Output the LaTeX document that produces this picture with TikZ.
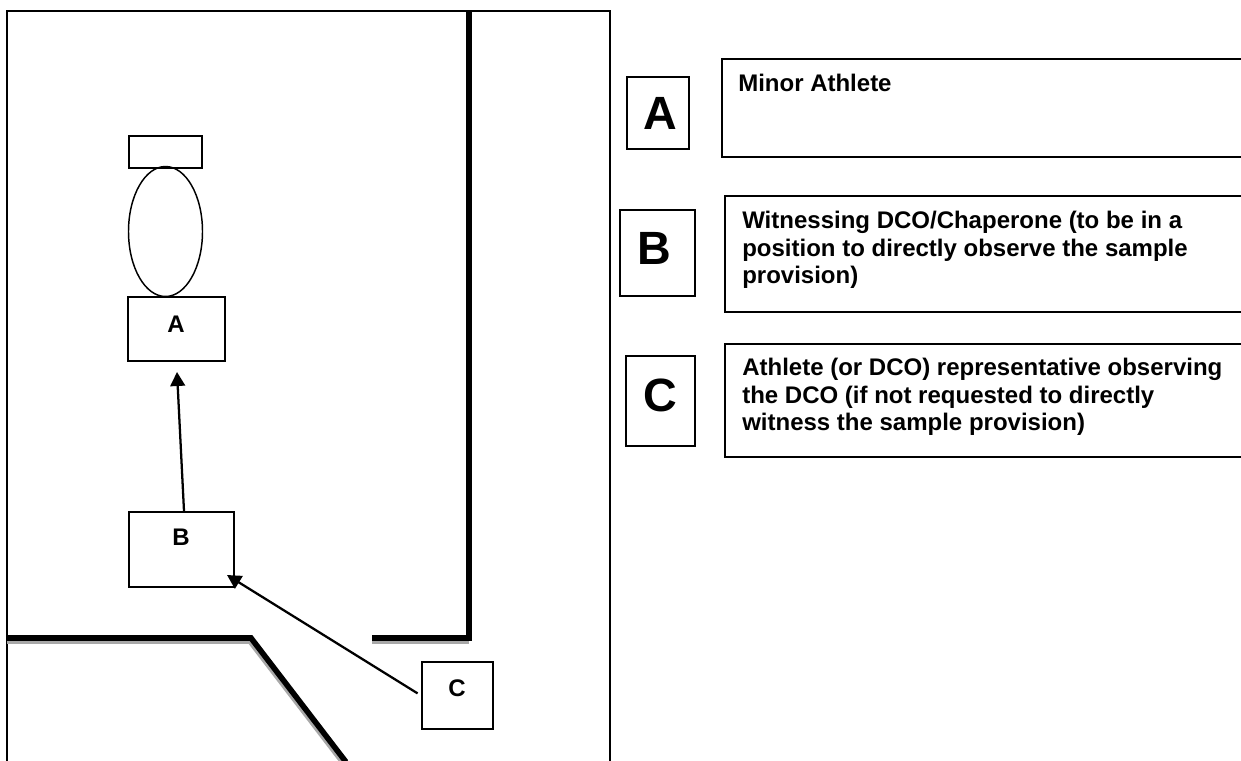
\documentclass[tikz,border=0pt]{standalone}
\usepackage{fontspec}
\setmainfont{Liberation Sans}
\usetikzlibrary{arrows.meta}
\definecolor{wallshadow}{gray}{0.66}
\tikzset{
  px/.style={x=0.75pt,y=-0.75pt},
  boxn/.style={draw=black,line width=1.5pt,inner sep=0pt,fill=white},
  outline/.style={draw=black,line width=1.5pt},
  wall/.style={draw=black,line width=4.2pt,miter limit=10},
  shadowwall/.style={draw=wallshadow,line width=4.2pt},
  conn/.style={draw=black,line width=1.7pt,-{Triangle[length=10.5pt,width=11pt]}},
  lbl/.style={font=\fontsize{18}{20}\selectfont\bfseries,inner sep=0pt},
  big/.style={font=\fontsize{35}{40}\selectfont\bfseries,inner sep=0pt},
  txt/.style={font=\fontsize{18}{20.7}\selectfont\bfseries,inner sep=0pt,align=left,anchor=north west}
}
\begin{document}
\begin{tikzpicture}[px]
\useasboundingbox (0,0) rectangle (1241,760);
\clip (0,0) rectangle (1241,760);
\fill[white] (0,0) rectangle (1241,760);
% room outline
\draw[outline] (7,765) -- (7,11) -- (610,11) -- (610,765);
% wall shadows
\draw[shadowwall] (7,641) -- (250,641) -- (345,765);
\draw[shadowwall] (372,641) -- (469,641);
% walls
\draw[wall] (469,11) -- (469,638) -- (372,638);
\draw[wall] (7,638) -- (251,638) -- (346,762);
% figure
\node[boxn,minimum width=73.5*0.75pt,minimum height=32*0.75pt] (top) at (165.5,152) {};
\draw[outline,line width=1.1pt] (165.5,231.5) ellipse [x radius=37,y radius=65];
\node[boxn,minimum width=97*0.75pt,minimum height=64*0.75pt] (A) at (176.5,329) {};
\node[lbl] (At) at (176,324) {A};
\node[boxn,minimum width=105*0.75pt,minimum height=75*0.75pt] (B) at (181.5,549.5) {};
\node[lbl] (Bt) at (181,537) {B};
\node[boxn,minimum width=71*0.75pt,minimum height=67*0.75pt] (C) at (457.5,695.5) {};
\node[lbl] (Ct) at (457,688) {C};
\coordinate (tipA) at (177,372);
\coordinate (tipB) at (227,575);
\draw[conn] ([shift={(2.5,0)}]B.north) -- (tipA);
\draw[conn,shorten <=3pt] (C.west) -- (tipB);
% legend
\node[boxn,minimum width=62*0.75pt,minimum height=72*0.75pt] (LA) at (658,113) {};
\node[big] (LAt) at (660,113) {A};
\node[boxn,minimum width=75*0.75pt,minimum height=86*0.75pt] (LB) at (657.5,253) {};
\node[big] (LBt) at (654,248) {B};
\node[boxn,minimum width=69*0.75pt,minimum height=90*0.75pt] (LC) at (660.5,401) {};
\node[big] (LCt) at (660,395) {C};
\draw[outline] (1245,59) -- (722,59) -- (722,157) -- (1245,157);
\draw[outline] (1245,196) -- (725,196) -- (725,312) -- (1245,312);
\draw[outline] (1245,344) -- (725,344) -- (725,457) -- (1245,457);
\node[txt] (T1) at (738,74) {Minor Athlete};
\node[txt] (T2) at (742,211) {Witnessing DCO/Chaperone (to be in a\\position to directly observe the sample\\provision)};
\node[txt] (T3) at (742,358) {Athlete (or DCO) representative observing\\the DCO (if not requested to directly\\witness the sample provision)};
\end{tikzpicture}
\end{document}
